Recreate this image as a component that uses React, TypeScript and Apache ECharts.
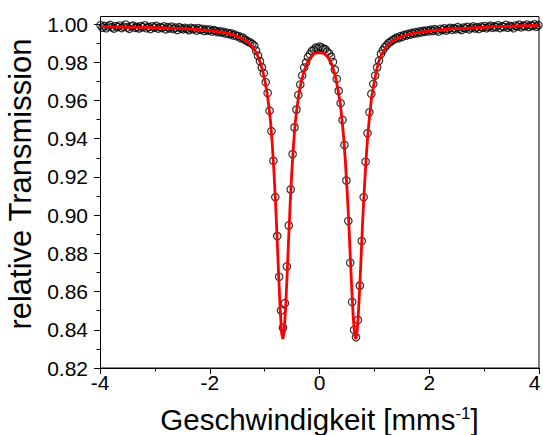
import React, { useEffect, useRef } from "react";
import * as echarts from "echarts";

// Measured spectrum: velocity (mm/s) and relative transmission
const velocity = [
  -3.99, -3.955, -3.92, -3.885, -3.85, -3.815, -3.78, -3.745, -3.71, -3.675,
  -3.64, -3.605, -3.57, -3.535, -3.5, -3.465, -3.43, -3.395, -3.36, -3.325,
  -3.29, -3.255, -3.22, -3.185, -3.15, -3.115, -3.08, -3.045, -3.01, -2.975,
  -2.94, -2.905, -2.87, -2.835, -2.8, -2.765, -2.73, -2.695, -2.66, -2.625,
  -2.59, -2.555, -2.52, -2.485, -2.45, -2.415, -2.38, -2.345, -2.31, -2.275,
  -2.24, -2.205, -2.17, -2.135, -2.1, -2.065, -2.03, -1.995, -1.96, -1.925,
  -1.89, -1.855, -1.82, -1.785, -1.75, -1.715, -1.68, -1.645, -1.61, -1.575,
  -1.54, -1.505, -1.47, -1.435, -1.4, -1.365, -1.33, -1.295, -1.26, -1.225,
  -1.19, -1.155, -1.12, -1.085, -1.05, -1.015, -0.98, -0.945, -0.91, -0.875,
  -0.84, -0.805, -0.77, -0.735, -0.7, -0.665, -0.63, -0.595, -0.56, -0.525,
  -0.49, -0.455, -0.42, -0.385, -0.35, -0.315, -0.28, -0.245, -0.21, -0.175,
  -0.14, -0.105, -0.07, -0.035, 0.0, 0.035, 0.07, 0.105, 0.14, 0.175,
  0.21, 0.245, 0.28, 0.315, 0.35, 0.385, 0.42, 0.455, 0.49, 0.525,
  0.56, 0.595, 0.63, 0.665, 0.7, 0.735, 0.77, 0.805, 0.84, 0.875,
  0.91, 0.945, 0.98, 1.015, 1.05, 1.085, 1.12, 1.155, 1.19, 1.225,
  1.26, 1.295, 1.33, 1.365, 1.4, 1.435, 1.47, 1.505, 1.54, 1.575,
  1.61, 1.645, 1.68, 1.715, 1.75, 1.785, 1.82, 1.855, 1.89, 1.925,
  1.96, 1.995, 2.03, 2.065, 2.1, 2.135, 2.17, 2.205, 2.24, 2.275,
  2.31, 2.345, 2.38, 2.415, 2.45, 2.485, 2.52, 2.555, 2.59, 2.625,
  2.66, 2.695, 2.73, 2.765, 2.8, 2.835, 2.87, 2.905, 2.94, 2.975,
  3.01, 3.045, 3.08, 3.115, 3.15, 3.185, 3.22, 3.255, 3.29, 3.325,
  3.36, 3.395, 3.43, 3.465, 3.5, 3.535, 3.57, 3.605, 3.64, 3.675,
  3.71, 3.745, 3.78, 3.815, 3.85, 3.885, 3.92, 3.955, 3.99,
];

const transmission = [
  0.9993, 0.9981, 0.999, 0.9978, 0.9987, 0.9995, 0.9983, 0.9976, 0.9989, 0.9984,
  0.9992, 0.9979, 0.9986, 0.9997, 0.9982, 0.9975, 0.9988, 0.9991, 0.998, 0.9985,
  0.9977, 0.9989, 0.9983, 0.9993, 0.9978, 0.9985, 0.9974, 0.9988, 0.9981, 0.999,
  0.9976, 0.9984, 0.9979, 0.9987, 0.9972, 0.9983, 0.9977, 0.9986, 0.9974, 0.9981,
  0.9969, 0.9983, 0.9977, 0.9972, 0.998, 0.9975, 0.9968, 0.9979, 0.9973, 0.9977,
  0.9966, 0.9978, 0.997, 0.9975, 0.9964, 0.9972, 0.9966, 0.9971, 0.9961, 0.9968,
  0.9963, 0.9957, 0.9962, 0.9955, 0.9959, 0.995, 0.9954, 0.9947, 0.9951, 0.994,
  0.9944, 0.9936, 0.9937, 0.9926, 0.9929, 0.9918, 0.9914, 0.9906, 0.9903, 0.9895,
  0.9886, 0.986, 0.9834, 0.9805, 0.9773, 0.9742, 0.9695, 0.9639, 0.9546, 0.9439,
  0.9284, 0.9094, 0.889, 0.8677, 0.8501, 0.841, 0.8539, 0.8731, 0.8946, 0.9134,
  0.9319, 0.9459, 0.9552, 0.9628, 0.9683, 0.9731, 0.9772, 0.9798, 0.9826, 0.9842,
  0.9859, 0.9864, 0.9876, 0.9872, 0.9881, 0.9877, 0.987, 0.9868, 0.9855, 0.9846,
  0.9828, 0.9801, 0.976, 0.9712, 0.965, 0.9585, 0.9498, 0.9367, 0.9181, 0.8969,
  0.8751, 0.8545, 0.8399, 0.8361, 0.8451, 0.8631, 0.8864, 0.9093, 0.9279, 0.9428,
  0.9538, 0.9634, 0.9686, 0.973, 0.9773, 0.9808, 0.9843, 0.9862, 0.9878, 0.9889,
  0.9901, 0.9907, 0.9915, 0.992, 0.9928, 0.9925, 0.9936, 0.9932, 0.9943, 0.9939,
  0.9948, 0.9944, 0.9953, 0.9949, 0.9957, 0.9952, 0.9961, 0.9956, 0.9964, 0.9959,
  0.9967, 0.9962, 0.997, 0.9964, 0.9973, 0.9967, 0.9961, 0.9975, 0.9969, 0.9977,
  0.9966, 0.9974, 0.998, 0.997, 0.9978, 0.9972, 0.9983, 0.9975, 0.9969, 0.9981,
  0.9976, 0.9985, 0.9972, 0.998, 0.9987, 0.9977, 0.9983, 0.9974, 0.9986, 0.9981,
  0.9989, 0.9978, 0.9985, 0.9991, 0.998, 0.9987, 0.9983, 0.9993, 0.9979, 0.9988,
  0.9984, 0.9995, 0.9981, 0.999, 0.9986, 0.9978, 0.9992, 0.9987, 0.9996, 0.9983,
  0.9991, 0.9988, 0.9997, 0.9985, 0.9993, 0.9989, 0.9998, 0.9986, 0.9994,
];

// Fitted curve (red line)
const fitVelocity = [
  -4.0, -3.6, -3.2, -2.8, -2.4, -2.1, -1.8, -1.6, -1.45, -1.32,
  -1.22, -1.14, -1.08, -1.03, -0.99, -0.955, -0.92, -0.89, -0.86, -0.83,
  -0.8, -0.77, -0.74, -0.715, -0.69, -0.668, -0.645, -0.62, -0.595, -0.565,
  -0.535, -0.505, -0.475, -0.445, -0.415, -0.38, -0.34, -0.29, -0.23, -0.16,
  -0.08, 0.0, 0.08, 0.16, 0.23, 0.29, 0.335, 0.375, 0.41, 0.44,
  0.47, 0.5, 0.53, 0.56, 0.59, 0.615, 0.64, 0.66, 0.68, 0.705,
  0.73, 0.76, 0.79, 0.82, 0.85, 0.88, 0.91, 0.945, 0.985, 1.03,
  1.08, 1.14, 1.22, 1.32, 1.45, 1.6, 1.8, 2.1, 2.4, 2.8,
  3.2, 3.6, 4.0,
];

const fitTransmission = [
  0.9986, 0.9984, 0.9982, 0.9979, 0.9974, 0.9968, 0.9957, 0.9946, 0.993, 0.9908,
  0.9881, 0.9843, 0.9799, 0.9749, 0.9696, 0.9638, 0.9562, 0.9484, 0.9367, 0.9226,
  0.9058, 0.886, 0.8653, 0.85, 0.8385, 0.8352, 0.8386, 0.8501, 0.8655, 0.8859,
  0.9058, 0.9222, 0.9361, 0.9475, 0.955, 0.9625, 0.9689, 0.9745, 0.9792, 0.9828,
  0.9848, 0.985, 0.9847, 0.9824, 0.9786, 0.9725, 0.9659, 0.9592, 0.9499, 0.9407,
  0.9288, 0.9144, 0.8983, 0.8788, 0.86, 0.8465, 0.8373, 0.8351, 0.8374, 0.8468,
  0.8603, 0.8793, 0.8989, 0.9152, 0.9297, 0.9418, 0.9511, 0.9606, 0.9676, 0.9745,
  0.9805, 0.9845, 0.9882, 0.9908, 0.9929, 0.9944, 0.9956, 0.9966, 0.9974, 0.998,
  0.9986, 0.999, 0.9993,
];

const FONT = "'Liberation Sans', Arial, Helvetica, sans-serif";

export default function App() {
  const ref = useRef<HTMLDivElement>(null);

  useEffect(() => {
    document.body.style.margin = "0";
    document.documentElement.style.overflow = "hidden";
    document.body.style.overflow = "hidden";
    const chart = echarts.init(ref.current as HTMLDivElement, null, { renderer: "svg" });
    chart.setOption({
      animation: false,
      backgroundColor: "#ffffff",
      grid: {
        left: 100,
        right: 4,
        top: 24,
        bottom: 67,
        containLabel: false,
        outerBoundsMode: "none",
      },
      xAxis: {
        type: "value",
        min: -4,
        max: 4,
        interval: 2,
        axisLine: { show: true, onZero: false, lineStyle: { color: "#000", width: 1 } },
        axisTick: { show: true, length: 6, lineStyle: { color: "#000", width: 1 } },
        minorTick: { show: true, splitNumber: 2, length: 3.5, lineStyle: { color: "#000", width: 1 } },
        splitLine: { show: false },
        axisLabel: {
          color: "#000",
          fontSize: 21,
          fontFamily: FONT,
          margin: 4,
          hideOverlap: false,
          formatter: (v: number) => (v >= 4 ? "{e|" + v + "}" : String(v)),
          rich: {
            e: { fontSize: 21, fontFamily: FONT, color: "#000", padding: [0, 9, 0, 0] },
          },
        },
        name: "{a|Geschwindigkeit [mms}{s|-1}{a|]}",
        nameLocation: "middle",
        nameGap: 37,
        nameTextStyle: {
          rich: {
            a: { fontSize: 29.5, fontFamily: FONT, color: "#000", lineHeight: 28 },
            s: { fontSize: 17, fontFamily: FONT, color: "#000", lineHeight: 10, verticalAlign: "top" },
          },
        },
      },
      yAxis: {
        type: "value",
        min: 0.82,
        max: 1.0,
        interval: 0.02,
        axisLine: { show: true, onZero: false, lineStyle: { color: "#000", width: 1 } },
        axisTick: { show: true, length: 6, lineStyle: { color: "#000", width: 1 } },
        minorTick: { show: true, splitNumber: 2, length: 3.5, lineStyle: { color: "#000", width: 1 } },
        splitLine: { show: false },
        axisLabel: {
          color: "#000",
          fontSize: 21,
          fontFamily: FONT,
          margin: 12,
          formatter: (v: number) => v.toFixed(2),
        },
        name: "relative Transmission",
        nameLocation: "middle",
        nameGap: 64,
        nameTextStyle: { fontSize: 31, fontFamily: FONT, color: "#000", padding: [0, 0, 0, 24] },
      },
      graphic: [
        {
          type: "rect",
          silent: true,
          z: 10,
          shape: { x: 100.5, y: 16.5, width: 438.5, height: 351.5 },
          style: { fill: "none", stroke: "#000", lineWidth: 1 },
        },
      ],
      series: [
        {
          type: "scatter",
          name: "Messung",
          symbol: "circle",
          symbolSize: 7.5,
          clip: false,
          itemStyle: { color: "rgba(255,255,255,0)", borderColor: "#000", borderWidth: 1.2 },
          data: velocity.map((v, i) => [v, transmission[i]]),
          z: 2,
        },
        {
          type: "line",
          name: "Fit",
          showSymbol: false,
          symbol: "none",
          clip: false,
          lineStyle: { color: "#ff0000", width: 2.8 },
          data: fitVelocity.map((v, i) => [v, fitTransmission[i]]),
          z: 3,
        },
      ],
    });
    return () => chart.dispose();
  }, []);

  return (
    <div
      ref={ref}
      style={{ position: "fixed", left: 0, top: 0, width: 543, height: 435, background: "#fff" }}
    />
  );
}
